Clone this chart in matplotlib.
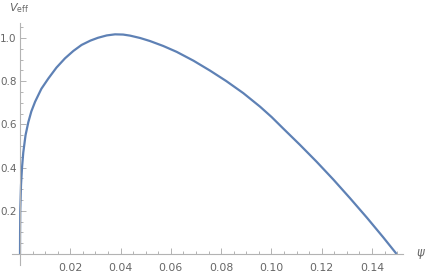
import matplotlib.pyplot as plt
import numpy as np

psi = [0.0, 0.00003, 0.0001, 0.0004, 0.0008, 0.0013, 0.0022, 0.0033, 0.0045,
       0.006, 0.0085, 0.0113, 0.0145, 0.0179, 0.0212, 0.0245, 0.028, 0.031,
       0.0345, 0.0378, 0.041, 0.0438, 0.0478, 0.0517, 0.057, 0.0623, 0.069,
       0.0756, 0.082, 0.0888, 0.0955, 0.1001, 0.1047, 0.1113, 0.118, 0.1247,
       0.1313, 0.138, 0.1445, 0.1498]
v_eff = [0.0, 0.1, 0.2, 0.32, 0.4, 0.47, 0.55, 0.61, 0.66,
         0.705, 0.765, 0.813, 0.863, 0.906, 0.94, 0.968, 0.988, 1.001,
         1.012, 1.017, 1.016, 1.011, 1.0, 0.986, 0.963, 0.936, 0.895,
         0.849, 0.801, 0.745, 0.682, 0.634, 0.581, 0.506, 0.427, 0.344,
         0.258, 0.168, 0.077, 0.0]

x_major = [0.02, 0.04, 0.06, 0.08, 0.10, 0.12, 0.14]
x_labels = ["0.02", "0.04", "0.06", "0.08", "0.10", "0.12", "0.14"]
y_major = [0.2, 0.4, 0.6, 0.8, 1.0]
y_labels = ["0.2", "0.4", "0.6", "0.8", "1.0"]

axis_col = "#b3b3b3"
label_col = "#666666"

fig = plt.figure(figsize=(4.25, 2.73), dpi=100)
ax = fig.add_axes([0, 0, 1, 1])
ax.set_xlim(-0.00796, 0.1611)
ax.set_ylim(-0.088, 1.176)

ax.plot(psi, v_eff, color="#5e81b5", lw=1.6, solid_capstyle="butt")

for side in ("top", "right"):
    ax.spines[side].set_visible(False)
ax.spines["bottom"].set_position(("data", 0))
ax.spines["left"].set_position(("data", 0))
ax.spines["bottom"].set_bounds(-0.003, 0.1523)
ax.spines["left"].set_bounds(-0.05, 1.07)
for side in ("bottom", "left"):
    ax.spines[side].set_color(axis_col)
    ax.spines[side].set_linewidth(0.8)
ax.patch.set_visible(False)

ax.set_xticks(x_major)
ax.set_xticklabels(x_labels)
ax.set_xticks(np.arange(0.005, 0.1501, 0.005), minor=True)
ax.set_yticks(y_major)
ax.set_yticklabels(y_labels)
ax.set_yticks(np.arange(0.05, 1.0501, 0.05), minor=True)

ax.tick_params(which="both", direction="in", color=axis_col, width=0.7,
               labelcolor=label_col, labelsize=7.8)
ax.tick_params(which="major", length=4)
ax.tick_params(which="minor", length=2)
ax.tick_params(axis="x", which="major", pad=6.5)
ax.tick_params(axis="y", which="major", pad=2.5, labelsize=7.5)

ax.text(-0.0045, 1.14, r"$V_{\mathrm{eff}}$", color=label_col, fontsize=8,
        va="center", ha="left")
ax.text(0.1575, 0.0, r"$\psi$", color=label_col, fontsize=8.5,
        va="center", ha="left")

fig.savefig("out.png", dpi=100)
